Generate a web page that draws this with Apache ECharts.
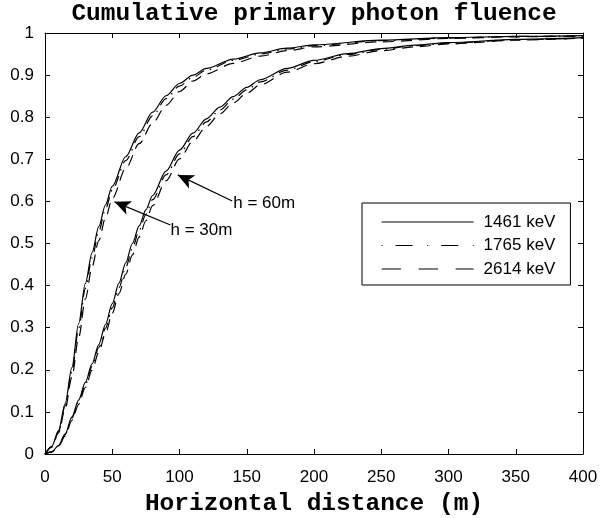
<!DOCTYPE html>
<html>
<head>
<meta charset="utf-8">
<script src="https://cdn.jsdelivr.net/npm/echarts@6/dist/echarts.min.js"></script>
<style>html,body{margin:0;padding:0;background:#fff;}#c{width:600px;height:518px;}</style>
</head>
<body>
<div id="c"></div>
<script>
const titleText = 'Cumulative primary photon fluence';
const xName = 'Horizontal distance (m)';
const energies = ['1461 keV', '1765 keV', '2614 keV'];

const dist30 = [0,5,10,15,20,25,30,35,40,45,50,60,70,80,90,100,110,120,140,160,180,200,250,300,350,400];
const f30_1461 = [0,0.018,0.055,0.12,0.205,0.31,0.405,0.478,0.54,0.592,0.636,0.706,0.763,0.812,0.851,0.88,0.9,0.916,0.938,0.953,0.964,0.972,0.983,0.989,0.992,0.994];
const f30_1765 = [0,0.017,0.053,0.114,0.196,0.298,0.393,0.466,0.529,0.582,0.627,0.697,0.754,0.803,0.844,0.874,0.895,0.912,0.935,0.95,0.962,0.970,0.982,0.988,0.992,0.993];
const f30_2614 = [0,0.016,0.05,0.107,0.183,0.276,0.368,0.445,0.507,0.561,0.607,0.678,0.737,0.786,0.828,0.861,0.886,0.903,0.928,0.945,0.958,0.967,0.979,0.987,0.991,0.993];

const dist60 = [0,5,10,15,20,25,30,35,40,45,50,55,60,65,70,75,80,90,100,110,120,130,140,150,160,180,200,225,250,275,300,350,400];
const f60_1461 = [0,0.005,0.02,0.048,0.088,0.128,0.17,0.214,0.26,0.308,0.357,0.406,0.454,0.5,0.542,0.58,0.614,0.672,0.722,0.762,0.796,0.824,0.849,0.871,0.889,0.916,0.935,0.951,0.963,0.971,0.977,0.985,0.989];
const f60_1765 = [0,0.005,0.019,0.046,0.085,0.124,0.165,0.208,0.253,0.299,0.347,0.395,0.443,0.489,0.531,0.569,0.604,0.663,0.713,0.754,0.789,0.817,0.843,0.865,0.884,0.912,0.932,0.949,0.961,0.970,0.976,0.984,0.988];
const f60_2614 = [0,0.005,0.018,0.043,0.080,0.118,0.158,0.199,0.242,0.287,0.334,0.381,0.427,0.473,0.515,0.554,0.59,0.649,0.701,0.743,0.778,0.808,0.834,0.857,0.877,0.907,0.927,0.945,0.958,0.967,0.974,0.983,0.988];

const annText = ['h = 30m', 'h = 60m'];
const arrowStart = [[93.3, 0.544], [139.2, 0.601]];
const arrowEnd = [[51.7, 0.599], [98.7, 0.663]];

const xTicks = {min: 0, max: 400, interval: 50};
const yTicks = {min: 0, max: 1, interval: 0.1};

const pair = (xs, ys) => xs.map((x, i) => [x, ys[i]]);
const plotDash = { '1461 keV': 'solid', '1765 keV': [10, 6, 1.5, 6], '2614 keV': [11, 7] };
const legendDash = { '1461 keV': 'solid', '1765 keV': [1, 13, 17, 14.6], '2614 keV': [19.5, 17.5] };

function lineSeries(name, xs, ys) {
  return {
    type: 'line', name: name, data: pair(xs, ys),
    showSymbol: false, symbol: 'none', smooth: 0.3, smoothMonotone: 'x',
    lineStyle: {color: '#000', width: 1.2, type: plotDash[name]},
    itemStyle: {color: '#000'}, silent: true, animation: false
  };
}

const series = [
  lineSeries(energies[0], dist30, f30_1461),
  lineSeries(energies[1], dist30, f30_1765),
  lineSeries(energies[2], dist30, f30_2614),
  lineSeries(energies[0], dist60, f60_1461),
  lineSeries(energies[1], dist60, f60_1765),
  lineSeries(energies[2], dist60, f60_2614),
  {
    type: 'scatter', name: 'annotations', symbolSize: 0, silent: true, animation: false,
    itemStyle: {opacity: 1, color: '#000'},
    data: arrowStart.map((p, i) => ({
      value: p,
      label: {show: true, formatter: annText[i], position: 'right', distance: 0,
              offset: i === 0 ? [0, 5] : [1, 2],
              color: '#000', opacity: 1, fontSize: 17, fontFamily: 'Liberation Sans'}
    })),
    markLine: {
      silent: true, animation: false,
      symbol: ['none', 'arrow'], symbolSize: [11, 16],
      lineStyle: {color: '#000', width: 1.2, type: 'solid', opacity: 1},
      label: {show: false},
      emphasis: {disabled: true},
      data: arrowStart.map((p, i) => [{coord: p}, {coord: arrowEnd[i]}])
    }
  }
];

const axisCommon = {
  type: 'value',
  axisLine: {show: true, onZero: false, lineStyle: {color: '#000', width: 1}},
  axisTick: {show: true, inside: true, length: 5, lineStyle: {color: '#000', width: 1}},
  splitLine: {show: false}
};
const labelStyle = {color: '#000', fontSize: 17, fontFamily: 'Liberation Sans'};

const option = {
  animation: false,
  backgroundColor: '#fff',
  title: {
    text: titleText, left: 314, top: 1, textAlign: 'center', padding: 0,
    textStyle: {fontFamily: 'Liberation Mono', fontWeight: 'bold', fontSize: 24.5, color: '#000'}
  },
  grid: {left: 45, right: 17, top: 33, bottom: 64, containLabel: false, outerBoundsMode: 'none'},
  legend: {
    orient: 'vertical', left: 362, top: 203,
    padding: [10.5, 15, 7.5, 19],
    itemWidth: 92, itemHeight: 17, itemGap: 6.5,
    borderColor: '#000', borderWidth: 1, borderRadius: 0,
    selectedMode: false,
    itemStyle: {color: 'rgba(0,0,0,0)', borderColor: 'rgba(0,0,0,0)', borderWidth: 0},
    textStyle: {color: '#000', fontSize: 17, fontFamily: 'Liberation Sans', padding: [0, 0, 0, 5]},
    data: energies.map(n => ({
      name: n,
      itemStyle: {color: 'rgba(0,0,0,0)', borderColor: 'rgba(0,0,0,0)', borderWidth: 0},
      lineStyle: {color: '#000', width: 1.2, type: legendDash[n], opacity: 1}
    }))
  },
  xAxis: [
    Object.assign({}, axisCommon, xTicks, {
      position: 'bottom',
      axisLabel: Object.assign({}, labelStyle, {margin: 15}),
      name: xName, nameLocation: 'middle', nameGap: 32,
      nameTextStyle: {fontFamily: 'Liberation Mono', fontWeight: 'bold', fontSize: 24.5, color: '#000'}
    }),
    Object.assign({}, axisCommon, xTicks, {position: 'top', axisLabel: {show: false}})
  ],
  yAxis: [
    Object.assign({}, axisCommon, yTicks, {
      position: 'left',
      axisLabel: Object.assign({}, labelStyle, {margin: 11})
    }),
    Object.assign({}, axisCommon, yTicks, {position: 'right', axisLabel: {show: false}})
  ],
  series: series
};

const chart = echarts.init(document.getElementById('c'), null, {renderer: 'canvas'});
chart.setOption(option);
</script>
</body>
</html>
